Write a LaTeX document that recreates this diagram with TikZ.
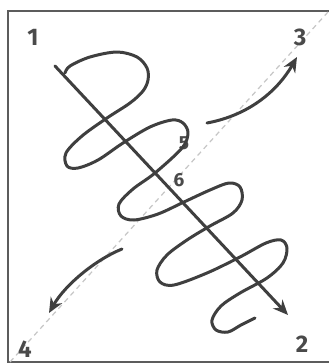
\documentclass[tikz,border=0pt]{standalone}
\usepackage{fontspec}
\setmainfont{Fira Sans}
\usetikzlibrary{arrows.meta}
\definecolor{ink}{HTML}{3F3F3F}
\definecolor{lab}{HTML}{4A4A4A}
\tikzset{
  pen/.style={draw=ink, line width=3pt, line cap=round, line join=round},
  arr/.style={pen, -{Stealth[length=15pt,width=13pt]}},
  big/.style={text=lab, font=\bfseries\fontsize{24}{24}\selectfont, inner sep=0pt},
  small/.style={text=lab, font=\bfseries\fontsize{19}{19}\selectfont, inner sep=0pt},
  guide/.style={draw=gray!45, line width=1.2pt, dash pattern=on 5pt off 4pt},
  frame/.style={draw=ink!85, line width=2.2pt}
}
\begin{document}
\begin{tikzpicture}[x=1pt,y=-1pt]
\useasboundingbox (0,0) rectangle (329,364);
\fill[white] (0,0) rectangle (329,364);
% frame
\draw[frame] (340,11) -- (8,11) -- (8,362) -- (340,362);
% dashed diagonal
\coordinate (dA) at (10,362);
\coordinate (dB) at (328,12);
\draw[guide] (dA) -- (dB);
% labels
\node[big] (n1) at (33,37) {1};
\node[big] (n3) at (300,37) {3};
\node[big] (n4) at (25,349) {4};
\node[big] (n2) at (302,344) {2};
\node[small] (n5) at (184,143) {5};
\node[small] (n6) at (179,180) {6};
% spiral
\draw[pen] plot[smooth, tension=0.55] coordinates {
 (65,73) (70,66) (90,57) (117,52) (137,57) (147,68) (148,80) (143,91) (130,103)
 (107,118) (82,136) (66,153) (67,166) (78,168) (98,160) (123,143) (150,127)
 (172,120) (183,123) (188,133) (182,148) (155,173) (133,189) (119,204) (121,216)
 (134,220) (158,214) (184,202) (210,190) (229,183) (240,187) (242,200) (233,213)
 (210,226) (187,240) (167,255) (157,270) (160,282) (174,285) (207,273) (240,257)
 (266,243) (281,240) (287,248) (283,263) (267,278) (240,293) (221,306) (212,320)
 (216,330) (228,332) (241,325) (255,318)};
% main arrow
\coordinate (ms) at (55,66);
\coordinate (me) at (288,315);
\draw[arr] (ms) -- (me);
% arrow to 3
\coordinate (a3s) at (207,123);
\coordinate (a3e) at (297,57);
\draw[arr] (a3s) .. controls (250,115) and (278,90) .. (a3e);
% arrow to 4
\coordinate (a4s) at (122,249);
\coordinate (a4e) at (49,313);
\draw[arr] (a4s) .. controls (95,260) and (65,285) .. (a4e);
\end{tikzpicture}
\end{document}
